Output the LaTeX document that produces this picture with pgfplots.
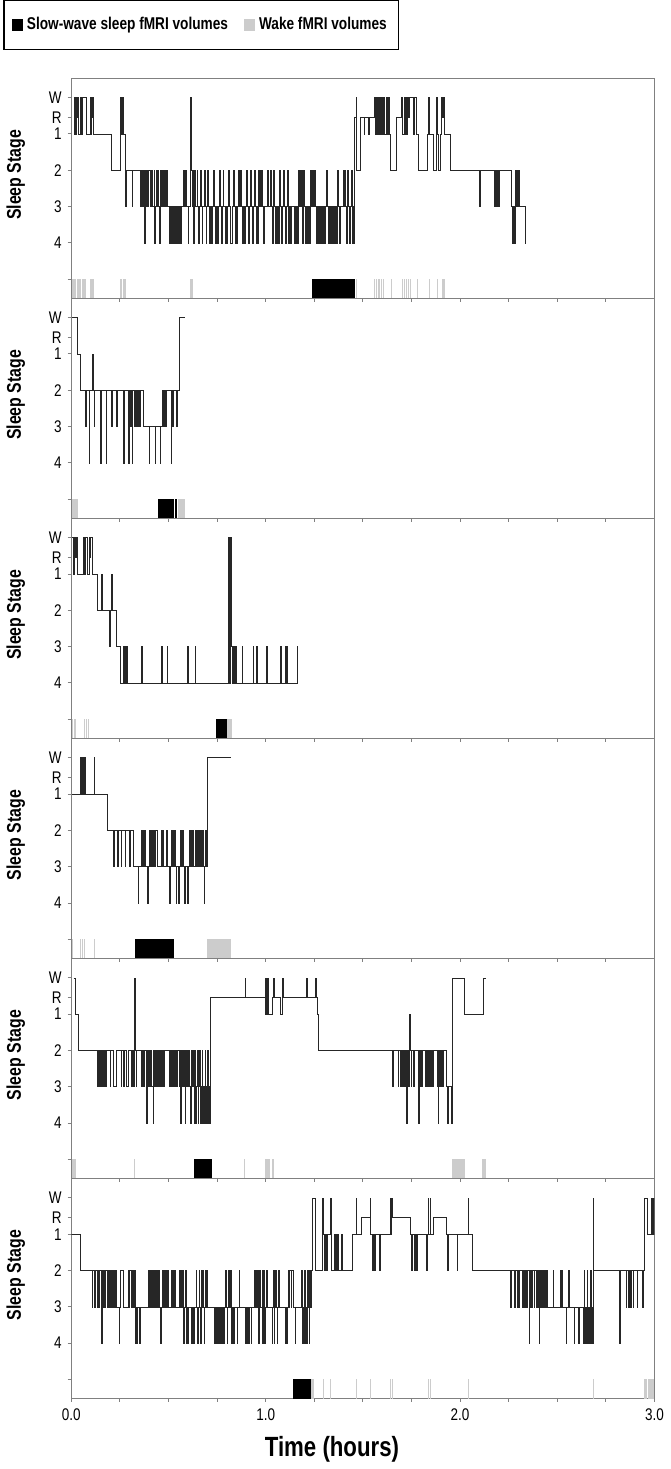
\documentclass[border=0pt]{standalone}
\usepackage{fontspec}
\setmainfont{Liberation Sans}[FakeStretch=0.8]
\usepackage{pgfplots}
\pgfplotsset{compat=1.18}
\usepgfplotslibrary{groupplots}
\definecolor{wakegray}{gray}{0.8}
\definecolor{framegray}{gray}{0.5}
\newcommand{\sws}[2]{\addplot[fill=black,draw=none] coordinates {(#1,-1)(#2,-1)(#2,-1.6)(#1,-1.6)} --cycle;}
\newcommand{\wake}[2]{\addplot[fill=wakegray,draw=none] coordinates {(#1,-1)(#2,-1)(#2,-1.6)(#1,-1.6)} --cycle;}
\pgfplotsset{hyp/.style={const plot, black!85, line width=0.3pt}}
\begin{document}
\begin{tikzpicture}
\begin{groupplot}[
  group style={group size=1 by 6, vertical sep=0pt, x descriptions at=edge bottom},
  width=293.75pt, height=110.85pt, scale only axis,
  xmin=0, xmax=3, ymin=-1.52, ymax=4.54,
  no markers,
  xtick={0,0.25,0.5,0.75,1,1.25,1.5,1.75,2,2.25,2.5,2.75,3},
  xticklabels={0.0,,,,1.0,,,,2.0,,,,3.0},
  ytick={-1,0,1,2,3,3.46,4},
  yticklabels={,4,3,2,1,R,W},
  xtick pos=left, ytick pos=left, tick align=outside,
  major tick length=1.8pt,
  axis line style={framegray, line width=0.5pt},
  tick style={framegray, line width=0.5pt},
  ticklabel style={font=\fontsize{8.5}{10}\selectfont},
  yticklabel style={xshift=0.5pt},
  ylabel={Sleep Stage},
  ylabel style={at={(rel axis cs:-0.095,0.56)}, anchor=center, font=\bfseries\fontsize{10}{12}\selectfont},
]
% ---------------- Panel 1 ----------------
\nextgroupplot[
  legend style={at={(rel axis cs:-0.1166,1.3545)}, anchor=north west, legend columns=2,
    draw=black, line width=0.6pt, font=\bfseries\fontsize{8.6}{10}\selectfont,
    inner xsep=4pt, inner ysep=6.5pt,
    /tikz/every even column/.append style={column sep=6pt}},
]
\addlegendimage{legend image code/.code={\fill[black] (0pt,-2.6pt) rectangle (5pt,2.6pt);}}
\addlegendentry{Slow-wave sleep fMRI volumes}
\addlegendimage{legend image code/.code={\fill[wakegray] (0pt,-2.6pt) rectangle (5pt,2.6pt);}}
\addlegendentry{Wake fMRI volumes}
\addplot[hyp] coordinates {
(0.013,4)(0.016,3)(0.019,4)(0.022,3)(0.025,4)(0.029,3.46)(0.032,4)(0.035,3)(0.047,4)(0.050,3)(0.059,4)(0.076,3)(0.098,4)(0.101,3)(0.104,4)(0.107,3.46)(0.110,4)(0.113,3)(0.205,2)(0.2525,4)(0.256,3)(0.260,4)(0.270,3)(0.277,1)(0.281,2)(0.313,1)(0.316,2)
(0.353,1)(0.357,2)(0.360,1)(0.364,2)(0.367,1)(0.370,2)(0.374,1)(0.378,0)(0.381,2)(0.386,1)(0.390,2)(0.394,1)(0.397,2)(0.405,1)(0.408,2)(0.412,1)(0.416,2)(0.419,1)(0.426,2)(0.429,0)(0.432,1)(0.437,2)(0.441,1)(0.445,2)(0.450,1)(0.454,0)(0.457,2)(0.463,1)(0.468,2)(0.472,1)(0.478,2)(0.482,1)(0.490,2)(0.494,1)
(0.505,0)(0.509,1)(0.512,0)(0.516,1)(0.519,0)(0.524,1)(0.527,0)(0.531,1)(0.535,0)(0.540,1)(0.543,0)(0.547,1)(0.551,0)(0.556,1)(0.560,0)(0.565,1)(0.578,2)(0.582,1)(0.587,2)(0.590,1)(0.600,0)(0.604,1)(0.612,4)(0.616,2)(0.620,1)(0.625,2)(0.630,0)(0.634,2)(0.640,1)(0.646,2)(0.650,1)(0.655,0)(0.659,1)(0.664,2)(0.668,1)(0.672,0)(0.676,1)(0.683,2)(0.687,1)(0.692,0)(0.696,1)(0.700,2)(0.704,1)(0.710,0)(0.713,1)(0.720,0)(0.724,1)(0.730,2)(0.734,1)(0.740,0)(0.744,1)(0.750,0)(0.754,1)(0.760,2)(0.764,1)(0.770,0)(0.775,1)(0.780,2)(0.784,1)(0.790,0)(0.795,1)(0.800,0)(0.805,1)(0.810,2)(0.814,1)(0.820,0)(0.826,1)(0.833,2)(0.837,1)(0.842,0)(0.846,1)(0.850,0)(0.855,1)(0.860,2)(0.864,1)(0.870,2)(0.874,1)(0.880,0)(0.885,1)(0.890,0)(0.894,1)(0.900,2)(0.904,1)(0.910,0)(0.915,1)(0.920,2)(0.924,1)(0.930,0)(0.935,1)(0.940,2)(0.944,1)
(0.950,0)(0.954,1)(0.958,0)(0.962,2)(0.966,1)(0.970,2)(0.975,1)(0.979,2)(0.983,1)(0.990,0)(0.994,1)(1.007,2)(1.011,1)(1.024,2)(1.028,1)(1.033,0)(1.037,1)(1.041,2)(1.045,1)(1.049,0)(1.053,1)(1.060,0)(1.064,1)(1.068,0)(1.072,2)(1.076,1)(1.080,0)(1.084,1)(1.092,2)(1.096,1)(1.100,0)(1.104,1)(1.110,2)(1.114,0)(1.118,1)(1.122,0)(1.126,1)(1.130,0)(1.134,1)(1.145,0)(1.149,1)(1.153,0)(1.157,1)(1.162,0)(1.166,1)(1.170,2)(1.174,1)(1.178,2)(1.182,1)(1.186,2)(1.190,0)(1.194,2)(1.198,1)(1.202,0)(1.206,1)(1.210,0)(1.214,1)(1.218,0)(1.222,1)(1.226,0)(1.230,2)(1.234,1)(1.240,2)(1.244,1)(1.250,2)(1.254,1)(1.260,0)(1.265,1)(1.270,0)(1.275,1)(1.280,0)(1.284,1)(1.290,0)(1.295,1)(1.300,0)(1.305,1)(1.312,2)(1.316,1)(1.320,0)(1.325,1)(1.330,0)(1.335,1)(1.345,0)(1.350,1)(1.355,0)(1.360,1)(1.365,0)(1.370,2)(1.374,1)(1.380,0)(1.385,1)(1.398,2)(1.402,1)(1.408,2)(1.412,1)(1.416,0)(1.420,2)(1.424,1)(1.430,0)(1.434,1)(1.440,2)(1.444,0)(1.448,1)(1.452,0)
(1.456,3.46)(1.465,4)(1.467,2)(1.486,3.46)(1.505,3)(1.508,3.46)(1.530,3)(1.534,3.46)(1.558,4)(1.562,3)(1.566,4)(1.570,3)(1.574,4)(1.580,3)(1.585,4)(1.590,3)(1.595,4)(1.600,3)(1.605,4)(1.610,3)(1.620,4)(1.625,3)(1.630,4)(1.634,3)(1.643,2)(1.673,3.46)(1.700,4)(1.704,3)(1.712,4)(1.716,3)(1.720,4)(1.725,3)(1.730,4)(1.735,3.46)(1.740,4)(1.760,3)(1.765,4)(1.775,3)(1.787,2)(1.830,3)(1.838,4)(1.842,3)(1.863,2)(1.878,3)(1.880,4)(1.884,3)(1.890,2)(1.900,3)(1.905,4)(1.910,3.46)(1.915,4)(1.920,3)(1.952,2)
(2.100,1)(2.104,2)(2.174,1)(2.178,2)(2.182,1)(2.186,2)(2.190,1)(2.195,2)(2.199,1)(2.203,2)(2.265,1)(2.269,0)(2.273,1)(2.277,0)(2.282,1)(2.286,2)(2.290,1)(2.294,2)(2.298,1)(2.302,2)(2.306,1)(2.336,0)(2.338,0)
};
\wake{0.002}{0.026}\wake{0.030}{0.050}\wake{0.054}{0.076}\wake{0.098}{0.115}\wake{0.251}{0.262}\wake{0.266}{0.281}\wake{0.611}{0.627}
\sws{1.236}{1.457}
\wake{1.463}{1.469}\wake{1.558}{1.563}\wake{1.569}{1.574}\wake{1.580}{1.586}\wake{1.593}{1.598}\wake{1.605}{1.610}\wake{1.643}{1.648}\wake{1.700}{1.706}\wake{1.710}{1.716}\wake{1.720}{1.726}\wake{1.730}{1.736}\wake{1.740}{1.746}\wake{1.778}{1.783}\wake{1.838}{1.842}\wake{1.880}{1.884}\wake{1.905}{1.910}\wake{1.914}{1.920}
% ---------------- Panel 2 ----------------
\nextgroupplot
\addplot[hyp] coordinates {
(0.005,4)(0.0305,3)(0.047,2)(0.073,1)(0.076,2)(0.090,0)(0.093,2)(0.110,3)(0.114,2)(0.117,1)(0.120,2)(0.149,0)(0.152,2)(0.178,0)(0.181,2)(0.208,1)(0.211,2)(0.234,1)(0.237,2)(0.268,0)(0.271,2)(0.293,0)(0.296,2)(0.299,1)(0.302,2)(0.305,1)(0.309,2)(0.313,0)(0.316,2)(0.322,1)(0.325,2)(0.330,1)(0.334,2)(0.338,1)(0.342,2)(0.346,1)(0.349,2)(0.354,1)(0.357,2)(0.370,1)(0.400,0)(0.403,1)(0.430,0)(0.433,1)(0.457,0)(0.460,1)(0.470,2)(0.474,1)(0.478,2)(0.482,1)(0.490,2)(0.512,0)(0.516,2)(0.522,1)(0.526,2)(0.540,1)(0.544,2)(0.556,4)(0.585,4)
};
\wake{0.003}{0.034}
\sws{0.446}{0.527}\sws{0.531}{0.545}
\wake{0.549}{0.585}
% ---------------- Panel 3 ----------------
\nextgroupplot
\addplot[hyp] coordinates {
(0.005,4)(0.008,3)(0.011,4)(0.014,3)(0.017,4)(0.020,3.46)(0.024,4)(0.031,3)(0.064,4)(0.068,3)(0.072,4)(0.081,3)(0.090,4)(0.093,3.46)(0.098,4)(0.107,3)(0.132,2)(0.155,3)(0.159,2)(0.196,1)(0.200,2)(0.208,3)(0.212,2)(0.234,1)(0.250,0)(0.268,1)(0.271,0)(0.276,1)(0.279,0)(0.284,1)(0.287,0)(0.361,1)(0.364,0)(0.463,1)(0.466,0)(0.493,1)(0.496,0)(0.598,1)(0.601,0)(0.636,1)(0.639,0)(0.807,4)(0.812,0)(0.816,4)(0.822,1)(0.826,0)(0.829,1)(0.832,0)(0.836,1)(0.839,0)(0.844,1)(0.847,0)(0.878,1)(0.881,0)(0.934,1)(0.937,0)(0.954,1)(0.957,0)(1.005,1)(1.008,0)(1.076,1)(1.079,0)(1.101,1)(1.104,0)(1.108,1)(1.111,0)(1.161,1)(1.164,0)
};
\wake{0.004}{0.009}\wake{0.012}{0.016}\wake{0.020}{0.025}\wake{0.064}{0.069}\wake{0.074}{0.079}\wake{0.086}{0.090}
\sws{0.746}{0.802}
\wake{0.802}{0.827}
% ---------------- Panel 4 ----------------
\nextgroupplot
\addplot[hyp] coordinates {
(0.005,3)(0.047,4)(0.050,3)(0.055,4)(0.058,3)(0.063,4)(0.066,3)(0.071,4)(0.074,3)(0.117,4)(0.120,3)(0.183,2)(0.217,1)(0.221,2)(0.236,1)(0.240,2)(0.255,1)(0.259,2)(0.276,1)(0.280,2)(0.297,1)(0.301,2)(0.320,1)(0.344,0)(0.347,1)(0.360,2)(0.364,1)(0.370,2)(0.374,1)(0.379,2)(0.383,1)(0.392,0)(0.395,1)(0.403,2)(0.407,1)(0.414,2)(0.418,1)(0.422,2)(0.426,1)(0.430,2)(0.440,1)(0.462,2)(0.466,1)(0.470,2)(0.474,1)(0.490,2)(0.494,1)(0.505,0)(0.508,1)(0.513,2)(0.517,1)(0.521,2)(0.526,1)(0.530,2)(0.534,1)(0.539,0)(0.542,1)(0.551,0)(0.554,1)(0.559,2)(0.563,1)(0.567,2)(0.571,1)(0.576,2)(0.578,1)(0.581,0)(0.584,1)(0.598,0)(0.601,1)(0.607,2)(0.611,1)(0.616,2)(0.620,1)(0.624,2)(0.628,1)(0.640,2)(0.644,1)(0.648,2)(0.652,1)(0.657,2)(0.660,1)(0.665,2)(0.669,1)(0.674,2)(0.678,1)(0.683,0)(0.686,1)(0.690,2)(0.694,1)(0.700,4)(0.819,4)
};
\wake{0.004}{0.007}\wake{0.046}{0.050}\wake{0.056}{0.060}\wake{0.066}{0.070}\wake{0.118}{0.121}
\sws{0.327}{0.527}
\wake{0.700}{0.822}
% ---------------- Panel 5 ----------------
\nextgroupplot
\addplot[hyp] coordinates {
(0.012,4)(0.022,3)(0.036,2)(0.132,1)(0.134,2)(0.136,1)(0.138,2)(0.140,1)(0.143,2)(0.146,1)(0.149,2)(0.152,1)(0.154,2)(0.160,1)(0.163,2)(0.168,1)(0.171,2)(0.176,1)(0.180,2)(0.200,1)(0.203,2)(0.217,1)(0.234,2)(0.256,1)(0.259,2)(0.268,1)(0.271,2)(0.285,1)(0.293,2)(0.310,1)(0.313,2)(0.319,1)(0.323,2)(0.326,4)(0.328,2)(0.332,1)(0.336,2)(0.361,1)(0.364,2)(0.367,1)(0.371,2)(0.375,1)(0.378,2)(0.386,0)(0.389,2)(0.398,1)(0.401,2)(0.405,1)(0.409,2)(0.412,1)(0.420,0)(0.423,2)(0.429,1)(0.432,2)(0.436,1)(0.440,2)(0.443,1)(0.446,2)(0.454,1)(0.457,2)(0.461,1)(0.464,2)(0.468,1)(0.472,2)(0.476,1)(0.480,2)(0.505,1)(0.508,2)(0.512,1)(0.516,2)(0.520,1)(0.524,2)(0.528,1)(0.532,2)(0.536,1)(0.540,2)(0.544,1)(0.547,2)(0.554,1)(0.558,2)(0.561,0)(0.564,2)(0.568,1)(0.572,2)(0.576,1)(0.580,2)(0.585,0)(0.588,2)(0.592,1)(0.596,2)(0.600,1)(0.604,2)(0.608,1)(0.612,0)(0.615,2)(0.619,1)(0.623,2)(0.627,1)(0.632,0)(0.635,2)(0.640,0)(0.643,1)(0.647,2)(0.651,0)(0.654,1)(0.658,2)(0.662,0)(0.665,1)(0.669,0)(0.672,2)(0.676,1)(0.680,0)(0.683,1)(0.687,2)(0.691,0)(0.694,1)(0.698,0)(0.701,2)(0.705,0)(0.708,1)(0.712,0)(0.715,2)(0.717,3.46)(0.893,4)(0.897,3.46)(0.997,4)(1.000,3)(1.003,4)(1.006,3)(1.010,4)(1.013,3)(1.036,3.46)(1.040,4)(1.044,3.46)(1.073,3)(1.087,4)(1.090,3.46)(1.211,4)(1.214,3.46)(1.255,4)(1.258,3.46)(1.268,3)(1.271,2)(1.651,1)(1.654,2)(1.680,1)(1.683,2)(1.694,1)(1.697,2)(1.702,1)(1.705,2)(1.710,1)(1.713,2)(1.716,1)(1.719,2)(1.724,0)(1.727,2)(1.730,1)(1.733,2)(1.736,1)(1.739,2)(1.741,3)(1.744,2)(1.748,1)(1.751,2)(1.758,1)(1.761,2)(1.764,1)(1.767,2)(1.787,0)(1.790,2)(1.794,1)(1.797,2)(1.801,1)(1.804,2)(1.821,1)(1.825,2)(1.829,1)(1.832,2)(1.838,1)(1.841,2)(1.845,1)(1.848,2)(1.852,1)(1.855,2)(1.859,1)(1.863,2)(1.884,1)(1.887,0)(1.890,2)(1.894,1)(1.898,2)(1.902,1)(1.906,2)(1.910,1)(1.914,2)(1.931,1)(1.936,0)(1.939,1)(1.956,0)(1.959,1)(1.962,4)(2.024,3)(2.120,4)(2.131,4)
};
\wake{0.005}{0.025}\wake{0.323}{0.327}
\sws{0.632}{0.725}
\wake{0.891}{0.895}\wake{0.997}{1.022}\wake{1.030}{1.034}\wake{1.040}{1.044}\wake{1.961}{2.024}\wake{2.115}{2.136}
% ---------------- Panel 6 ----------------
\nextgroupplot[xlabel={Time (hours)}, xlabel style={at={(ticklabel cs:0.447)}, anchor=near ticklabel, font=\bfseries\fontsize{14}{16}\selectfont, yshift=-1pt}]
\addplot[hyp] coordinates {
(0.000,3)(0.047,2)(0.107,1)(0.110,2)(0.120,1)(0.123,2)(0.132,1)(0.135,2)(0.140,1)(0.143,2)(0.154,0)(0.157,2)(0.160,1)(0.163,2)(0.166,1)(0.169,2)(0.172,1)(0.175,2)(0.183,1)(0.186,2)(0.190,1)(0.193,2)(0.197,1)(0.200,2)(0.208,1)(0.211,2)(0.216,1)(0.219,2)(0.226,1)(0.229,2)(0.234,1)(0.246,0)(0.249,1)(0.253,2)(0.268,1)(0.293,2)(0.297,1)(0.300,2)(0.310,1)(0.313,2)(0.318,1)(0.322,2)(0.330,0)(0.333,1)(0.338,0)(0.341,1)(0.350,0)(0.353,1)
(0.395,2)(0.399,1)(0.402,2)(0.406,1)(0.410,2)(0.414,1)(0.418,2)(0.422,1)(0.426,2)(0.430,1)(0.434,2)(0.438,1)(0.442,2)(0.446,1)(0.450,2)(0.455,1)(0.459,0)(0.462,1)(0.466,2)(0.470,1)(0.474,2)(0.478,1)(0.482,2)(0.490,1)(0.494,2)(0.497,1)(0.514,2)(0.518,1)(0.523,2)(0.527,1)(0.530,2)(0.533,1)
(0.556,2)(0.560,1)(0.564,2)(0.568,1)(0.571,2)(0.575,1)(0.578,0)(0.582,1)(0.586,2)(0.590,0)(0.594,1)(0.598,0)(0.602,1)(0.619,0)(0.622,1)(0.629,0)(0.632,1)(0.641,2)(0.645,1)(0.649,0)(0.652,1)(0.656,2)(0.660,1)(0.666,0)(0.669,2)(0.672,1)(0.676,2)(0.680,1)(0.683,0)(0.686,1)(0.690,2)(0.694,1)(0.698,2)(0.700,1)
(0.734,0)(0.737,1)(0.742,0)(0.746,1)(0.750,0)(0.753,1)(0.758,0)(0.761,1)(0.766,0)(0.770,1)(0.775,0)(0.778,1)(0.782,0)(0.785,1)(0.793,2)(0.797,1)(0.800,0)(0.803,1)(0.810,2)(0.815,1)(0.820,2)(0.824,0)(0.827,1)(0.835,0)(0.838,1)(0.852,0)(0.855,1)(0.862,2)(0.866,1)(0.895,0)(0.898,1)(0.905,0)(0.908,1)(0.915,0)(0.918,1)(0.925,0)(0.928,1)(0.942,2)(0.946,1)(0.950,2)(0.954,1)
(0.958,2)(0.962,0)(0.965,1)(0.969,2)(0.973,1)(0.982,2)(0.985,0)(0.990,2)(0.994,0)(0.998,1)(1.003,2)(1.007,1)(1.033,0)(1.036,1)(1.040,2)(1.043,0)(1.046,1)(1.050,2)(1.054,1)(1.058,0)(1.061,1)(1.065,2)(1.068,1)(1.100,0)(1.103,1)(1.107,0)(1.110,1)(1.117,2)(1.120,1)(1.124,2)(1.130,1)(1.134,2)(1.140,1)(1.151,0)(1.154,1)(1.185,2)(1.188,0)(1.192,1)(1.196,0)(1.200,2)(1.204,0)(1.208,1)(1.212,0)(1.215,2)(1.219,1)(1.222,0)(1.226,2)(1.230,1)(1.233,2)
(1.238,4)(1.253,3)(1.257,2)(1.293,4)(1.297,3)(1.300,2)(1.305,3)(1.312,2)(1.316,3)(1.332,4)(1.336,3)(1.340,2)(1.355,3)(1.358,2)(1.362,3)(1.366,2)(1.370,3)(1.374,2)(1.390,3)(1.394,2)(1.448,3)(1.464,4)(1.468,3)(1.490,3.46)(1.536,4)(1.540,3)(1.548,2)(1.552,3)(1.560,2)(1.563,3)(1.584,2)(1.590,3)(1.641,4)(1.645,3)(1.648,4)(1.652,3.46)(1.745,3)(1.748,2)(1.752,3)(1.765,2)(1.768,3)(1.775,2)(1.780,3)(1.826,2)(1.830,3)(1.836,4)(1.839,3)(1.845,4)(1.848,3)(1.862,3.46)(1.930,3)(1.935,2)(1.942,3)(1.985,2)(1.988,3)(2.040,4)(2.043,3)(2.061,2)
(2.261,1)(2.265,2)(2.278,1)(2.282,2)(2.295,1)(2.298,2)(2.302,1)(2.306,2)(2.320,1)(2.324,2)(2.328,1)(2.332,2)(2.336,1)(2.340,2)(2.344,1)(2.348,2)(2.355,0)(2.358,2)(2.362,1)(2.366,2)(2.370,1)(2.374,2)(2.380,1)(2.384,2)(2.394,1)(2.398,2)(2.402,1)(2.406,0)(2.409,2)(2.413,1)(2.417,2)(2.421,1)(2.425,2)(2.430,1)(2.434,2)(2.438,1)(2.442,2)(2.448,1)
(2.478,2)(2.482,1)(2.516,2)(2.519,1)(2.522,2)(2.526,1)(2.546,0)(2.549,1)(2.558,2)(2.562,1)(2.587,0)(2.590,1)(2.610,0)(2.613,1)(2.634,0)(2.637,2)(2.641,0)(2.645,1)(2.650,0)(2.653,2)(2.657,0)(2.661,1)(2.665,0)(2.669,2)(2.673,0)(2.677,1)(2.681,0)(2.684,4)(2.688,2)
(2.820,0)(2.824,2)(2.853,1)(2.857,2)(2.866,1)(2.870,2)(2.878,1)(2.882,2)(2.889,1)(2.893,2)(2.910,1)(2.914,2)(2.940,1)(2.944,2)(2.948,4)(2.965,3)(2.982,4)(2.986,3)(2.990,4)(2.995,3)(2.999,4)
};
\sws{1.143}{1.233}
\wake{1.233}{1.250}\wake{1.294}{1.298}\wake{1.333}{1.337}\wake{1.464}{1.468}\wake{1.537}{1.541}\wake{1.641}{1.645}\wake{1.650}{1.654}\wake{1.835}{1.839}\wake{1.845}{1.849}\wake{2.040}{2.044}\wake{2.684}{2.688}\wake{2.948}{2.962}\wake{2.968}{2.985}\wake{2.990}{2.999}
\end{groupplot}
\end{tikzpicture}
\end{document}
